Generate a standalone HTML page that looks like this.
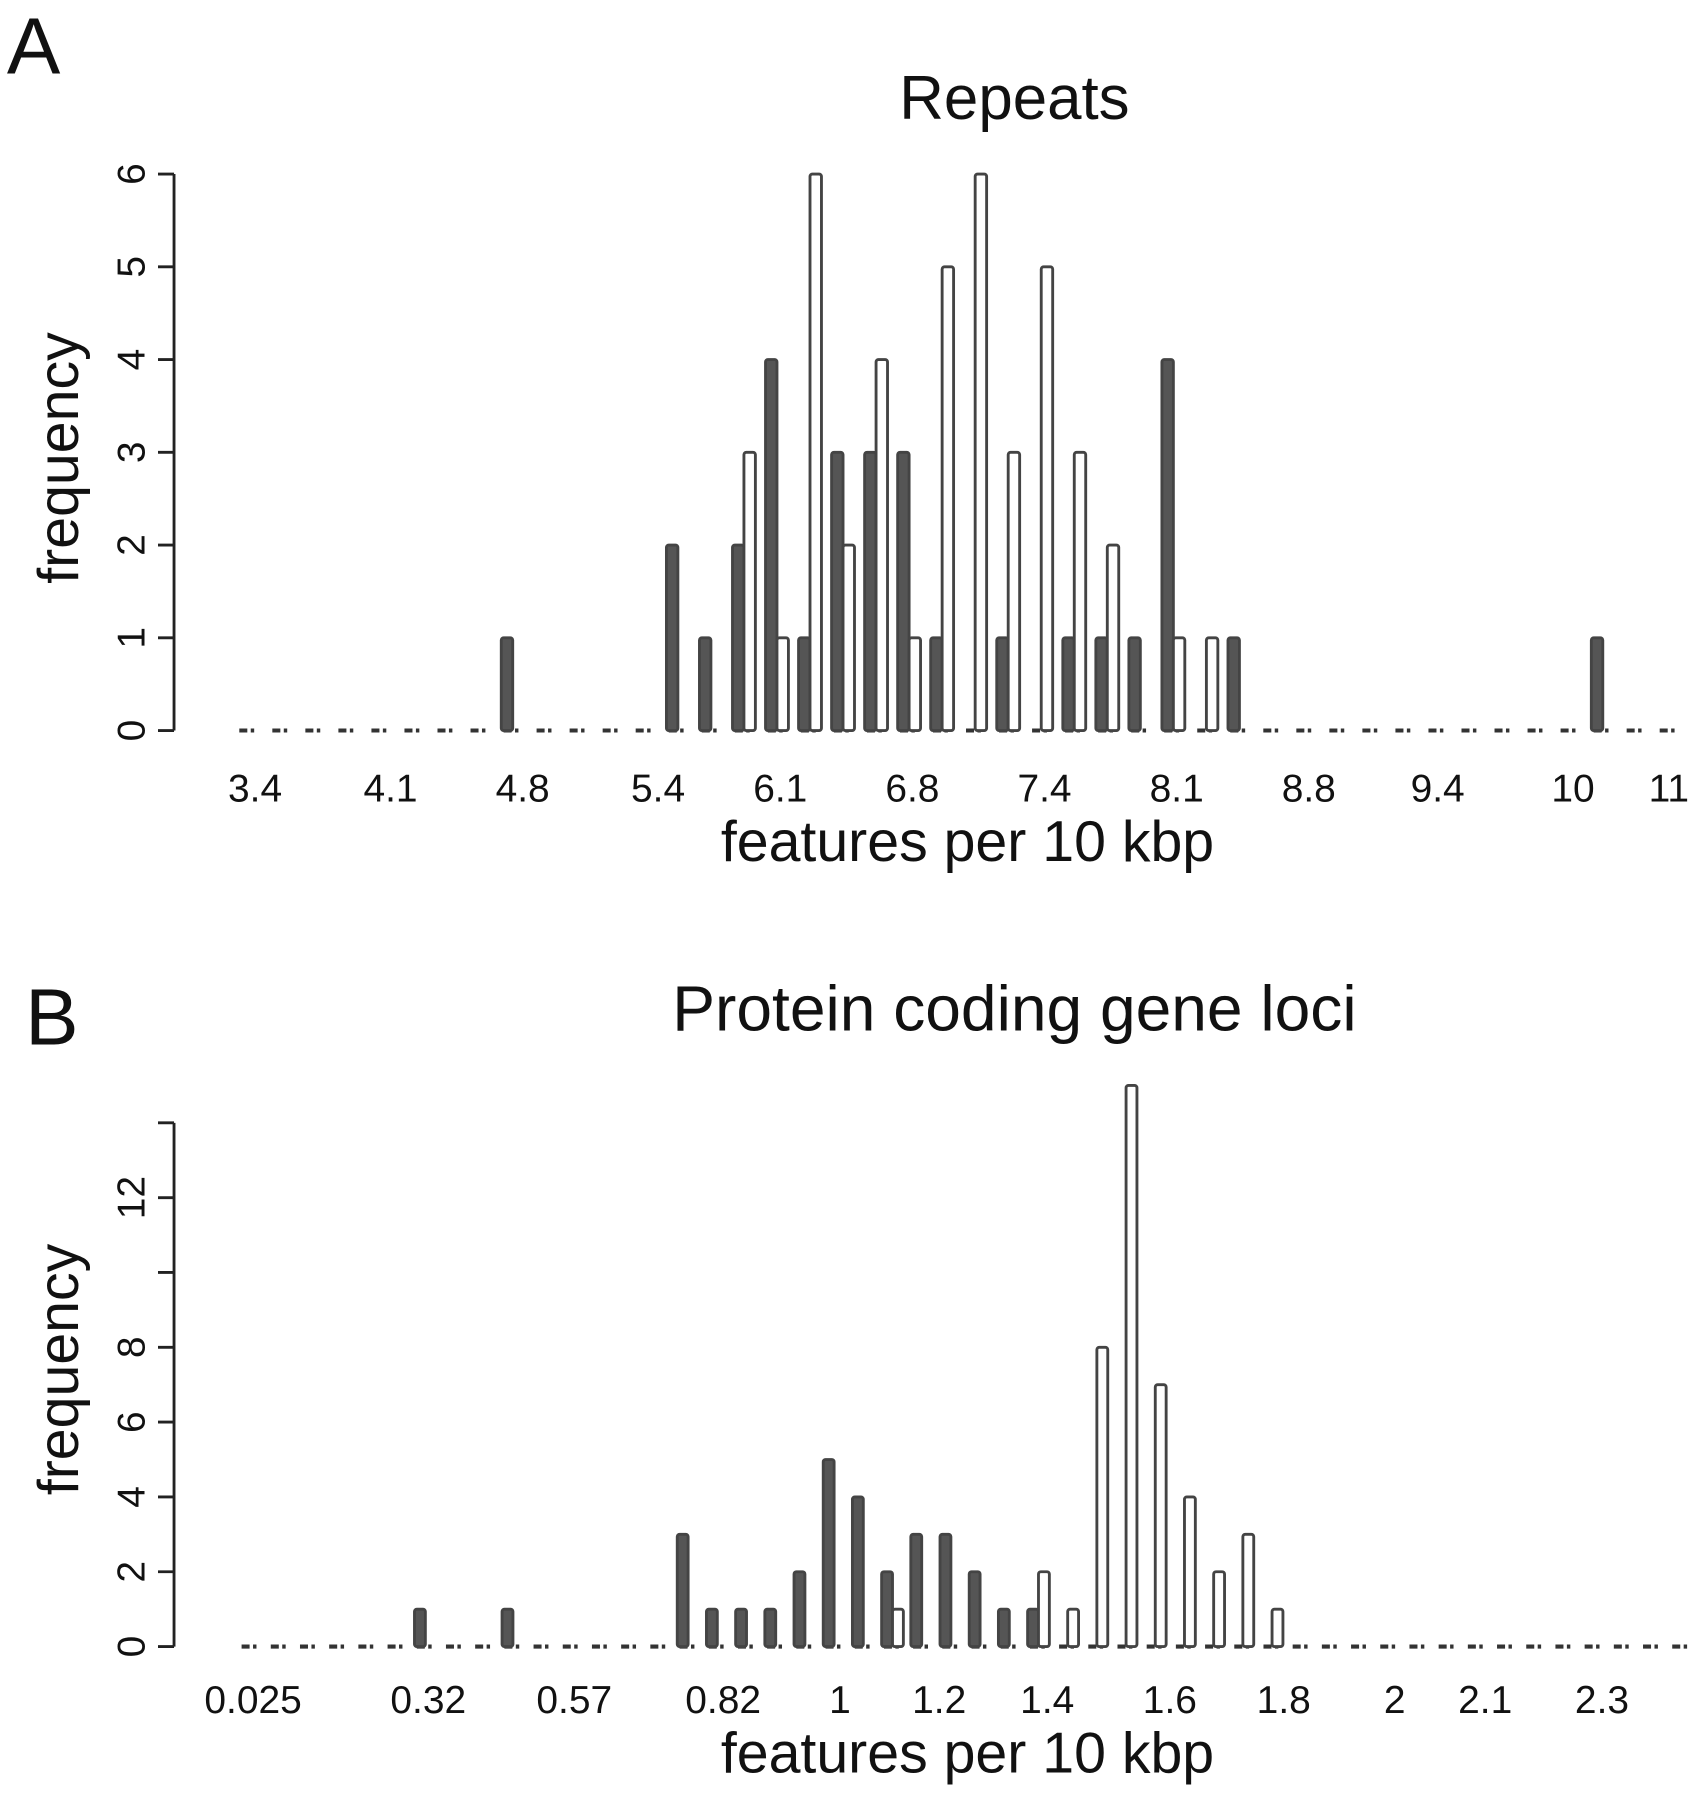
<!DOCTYPE html>
<html><head><meta charset="utf-8"><style>
html,body{margin:0;padding:0;background:#fff}
svg{display:block}
text{font-family:"Liberation Sans",sans-serif;fill:#111}
</style></head><body>
<svg id="chart" width="1706" height="1800" viewBox="0 0 1490 1572" preserveAspectRatio="none" xmlns="http://www.w3.org/2000/svg">
<text x="6" y="64" font-size="70">A</text>
<text x="886" y="104" font-size="54" text-anchor="middle">Repeats</text>
<text x="845" y="752" font-size="50" text-anchor="middle">features per 10 kbp</text>
<text transform="translate(68,400) rotate(-90)" font-size="50" text-anchor="middle">frequency</text>
<text x="22" y="912" font-size="70">B</text>
<text x="886" y="900" font-size="56" text-anchor="middle">Protein coding gene loci</text>
<text x="845" y="1548" font-size="50" text-anchor="middle">features per 10 kbp</text>
<text transform="translate(68,1196) rotate(-90)" font-size="50" text-anchor="middle">frequency</text>
</svg>
<script>
// Panel A data (group index -> counts)
const aDark = [0,0,0,0,0,0,0,0,1,0,0,0,0,2,1,2,4,1,3,3,3,1,0,1,0,1,1,1,4,0,1,0,0,0,0,0,0,0,0,0,0,1,0,0];
const aLight = [0,0,0,0,0,0,0,0,0,0,0,0,0,0,0,3,1,6,2,4,1,5,6,3,5,3,2,0,1,1,0,0,0,0,0,0,0,0,0,0,0,0,0,0];
const aTickLabels = ["3.4","4.1","4.8","5.4","6.1","6.8","7.4","8.1","8.8","9.4","10","11"];
const aTickPos = [0.2,4.3,8.3,12.4,16.1,20.1,24.1,28.1,32.1,36,40.1,43];
const aYTicks = [0,1,2,3,4,5,6];
// Panel B data
const bDark = [0,0,0,0,0,0,1,0,0,1,0,0,0,0,0,3,1,1,1,2,5,4,2,3,3,2,1,1,0,0,0,0,0,0,0,0,0,0,0,0,0,0,0,0,0,0,0,0,0,0];
const bLight = [0,0,0,0,0,0,0,0,0,0,0,0,0,0,0,0,0,0,0,0,0,0,1,0,0,0,0,2,1,8,15,7,4,2,3,1,0,0,0,0,0,0,0,0,0,0,0,0,0,0];
const bTickLabels = ["0.025","0.32","0.57","0.82","1","1.2","1.4","1.6","1.8","2","2.1","2.3"];
const bTickPos = [0.1,6.1,11.1,16.2,20.2,23.6,27.3,31.5,35.4,39.2,42.3,46.3];
const bYTicks = [0,2,4,6,8,10,12,14];
const bYLabels = ["0","2","4","6","8","","12",""];

const svg = document.getElementById('chart');
const NS = 'http://www.w3.org/2000/svg';
function mk(tag, attrs){const e=document.createElementNS(NS,tag);for(const k in attrs)e.setAttribute(k,attrs[k]);svg.appendChild(e);return e;}

function panel(p, dark, light, xl, xp, yt, yl){
  const xs = i => p.x0 + i*p.pitch;
  const ys = v => p.y0 - v*p.unit;
  const ax = mk('line',{x1:p.axX,x2:p.axX,y1:ys(yt[0]),y2:ys(yt[yt.length-1]),stroke:'#222','stroke-width':2.5});
  
  
  yt.forEach((v,k)=>{
    const t = mk('line',{x1:p.axX-14,x2:p.axX,y1:ys(v),y2:ys(v),stroke:'#222','stroke-width':2.5});
    
    
    const lab = yl ? yl[k] : String(v);
    if(lab){
      const tx = mk('text',{transform:`translate(${p.axX-26},${ys(v)}) rotate(-90)`,'font-size':34,'text-anchor':'middle'});
      tx.textContent = lab;
      
      
    }
  });
  // zero-height dashes along baseline
  dark.forEach((v,i)=>{
    const d = mk('line',{x1:xs(i)+2, x2:xs(i)+2*p.bw-2, y1:p.y0, y2:p.y0, stroke:'#333','stroke-width':3.5,'stroke-dasharray':'7 3 3 3'});
    
    
  });
  const draw = (arr, off, fill, name) => arr.forEach((v,i)=>{
    if(v<=0) return;
    const x = xs(i)+off, h = v*p.unit;
    const r = mk('rect',{x:x, y:ys(v), width:p.bw, height:h, fill:fill, stroke:'#444','stroke-width':2.5, rx:2});
    
    
  });
  draw(dark, 0, '#555', 'dark');
  draw(light, p.bw, '#fff', 'light');
  xl.forEach((s,k)=>{
    const t = mk('text',{x:xs(xp[k])+p.bw, y:p.labY, 'font-size':34, 'text-anchor':'middle'});
    t.textContent = s;
    
    
  });
}
panel({id:'repeats',x0:207,pitch:28.85,bw:10,y0:638,unit:81,axX:152,labY:700}, aDark, aLight, aTickLabels, aTickPos, aYTicks, null);
panel({id:'protein',x0:209,pitch:25.5,bw:9.5,y0:1438,unit:32.67,axX:152,labY:1496}, bDark, bLight, bTickLabels, bTickPos, bYTicks, bYLabels);
</script>
</body></html>
